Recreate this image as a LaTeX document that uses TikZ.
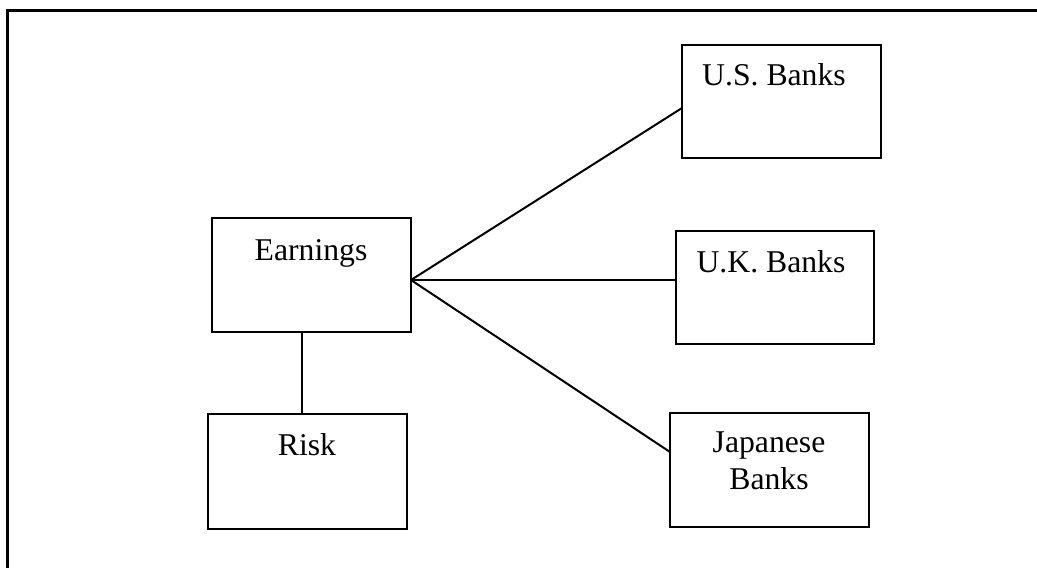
\documentclass[tikz,border=0pt]{standalone}
\usepackage{fontspec}
\setmainfont{Liberation Serif}
\begin{document}
\begin{tikzpicture}[x=1pt,y=-1pt,
  box/.style={draw=black, line width=2pt, fill=white, outer sep=0pt, inner sep=0pt, minimum width=199pt, minimum height=114pt},
  lbl/.style={anchor=base, inner sep=0pt, font=\fontsize{31.7}{37.3}\selectfont},
  conn/.style={draw=black, line width=2pt}]
\useasboundingbox (0,0) rectangle (1037,568);
\fill[white] (0,0) rectangle (1037,568);
% outer frame (right and bottom lie beyond the page)
\draw[line width=3pt] (7.5,568) -- (7.5,10.5) -- (1037,10.5);
% boxes
\node[box] (earn) at (311.5,275) {};
\node[box, minimum height=115pt] (risk) at (307.5,471.5) {};
\node[box, minimum height=113pt] (us) at (781.5,101.5) {};
\node[box, minimum width=198pt, minimum height=113pt] (uk) at (775,287.5) {};
\node[box, minimum height=114pt] (jp) at (769.5,470) {};
% labels
\node[lbl] (earnT) at (311,260) {Earnings};
\node[lbl] (riskT) at (307,455) {Risk};
\node[lbl] (usT) at (774,85) {U.S. Banks};
\node[lbl] (ukT) at (771,272) {U.K. Banks};
\node[lbl] (jpT1) at (769,452) {Japanese};
\node[lbl] (jpT2) at (769,489) {Banks};
% connectors
\coordinate (hub) at ([yshift=-5pt]earn.east);
\draw[conn] (hub) -- ([yshift=-6.5pt]us.west);
\draw[conn] (hub) -- ([yshift=7.5pt]uk.west);
\draw[conn] (hub) -- ([yshift=18pt]jp.west);
\draw[conn] ([xshift=-9.5pt]earn.south) -- ([xshift=-9.5pt]earn.south |- risk.north);
\end{tikzpicture}
\end{document}
